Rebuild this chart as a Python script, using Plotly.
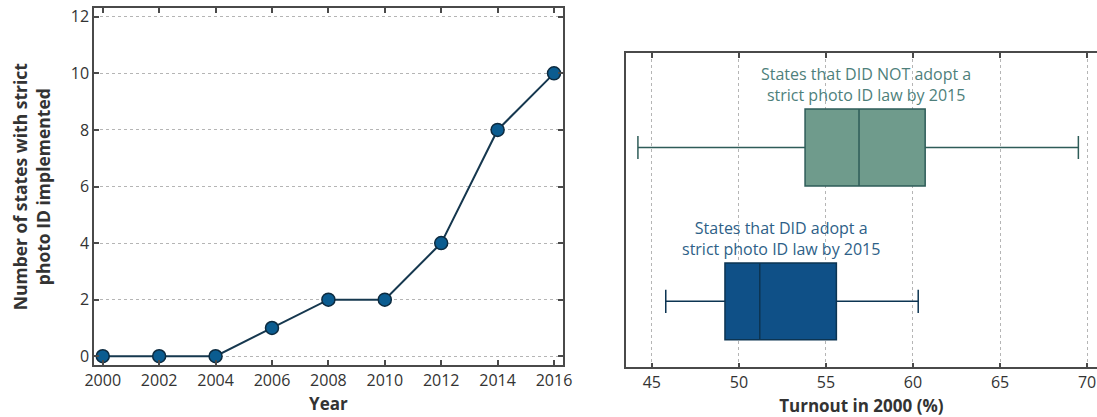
import plotly.graph_objects as go

# Strict photo ID laws implemented over time
years = [2000, 2002, 2004, 2006, 2008, 2010, 2012, 2014, 2016]
states_with_law = [0, 0, 0, 1, 2, 2, 4, 8, 10]

# Turnout in 2000 (%) summary statistics by group
groups = ["States that DID NOT adopt a<br>strict photo ID law by 2015",
          "States that DID adopt a<br>strict photo ID law by 2015"]
lower_whisker = [44.2, 45.8]
q1 = [53.8, 49.2]
median = [56.9, 51.2]
q3 = [60.7, 55.6]
upper_whisker = [69.5, 60.3]

box_pos = [0.70, 0.21]
box_fill = ["#6f9b8c", "#0f5087"]
box_line = ["#2e5c58", "#0c3452"]
label_color = ["#4e7f7b", "#2e5f88"]
label_x = [57.3, 52.4]
label_y = [0.976, 0.484]

FONT = "Open Sans"
AXIS_COLOR = "#4a4a4a"
TEXT_COLOR = "#333333"

fig = go.Figure()

fig.add_trace(go.Scatter(
    x=years, y=states_with_law, mode="lines+markers",
    line=dict(color="#16384f", width=2),
    marker=dict(size=13, color="#0b5c90", line=dict(color="#0d2b40", width=1.5)),
    xaxis="x", yaxis="y", showlegend=False,
))

for i in range(len(groups)):
    fig.add_trace(go.Box(
        y=[box_pos[i]], q1=[q1[i]], median=[median[i]], q3=[q3[i]],
        lowerfence=[lower_whisker[i]], upperfence=[upper_whisker[i]],
        orientation="h", width=0.245, whiskerwidth=0.3,
        fillcolor=box_fill[i], line=dict(color=box_line[i], width=1.5),
        boxpoints=False, xaxis="x2", yaxis="y2", showlegend=False,
        hoverinfo="x",
    ))
    fig.add_annotation(
        x=label_x[i], y=label_y[i], xref="x2", yref="y2",
        text=groups[i], showarrow=False, align="center",
        font=dict(family=FONT, size=16, color=label_color[i]),
        yanchor="top",
    )

axis_common = dict(
    showline=True, linecolor=AXIS_COLOR, linewidth=1.5, mirror="ticks",
    ticks="inside", ticklen=5, tickcolor=AXIS_COLOR, tickwidth=1.5,
    gridcolor="#b5b5b5", griddash="dot", gridwidth=1,
    zeroline=False, automargin=False,
    tickfont=dict(family=FONT, size=16, color=TEXT_COLOR),
)

fig.update_layout(
    width=1097, height=417,
    margin=dict(l=0, r=0, t=0, b=0),
    paper_bgcolor="white", plot_bgcolor="white",
    xaxis=dict(
        domain=[0.0857, 0.5130], range=[1999.69, 2016.31],
        tickvals=years, ticktext=[str(y) for y in years],
        showgrid=False,
        title=dict(text="<b>Year</b>", standoff=8,
                   font=dict(family=FONT, size=17, color=TEXT_COLOR)),
        **axis_common,
    ),
    yaxis=dict(
        domain=[0.1247, 0.9801], range=[-0.31, 12.3],
        tickvals=[0, 2, 4, 6, 8, 10, 12], showgrid=True,
        title=dict(text="<b>Number of states with strict<br>photo ID implemented</b>",
                   standoff=16,
                   font=dict(family=FONT, size=17.5, color=TEXT_COLOR)),
        **axis_common,
    ),
    xaxis2=dict(
        domain=[0.5704, 1.0], range=[43.5, 70.57], anchor="y2",
        tickvals=[45, 50, 55, 60, 65, 70], showgrid=True,
        title=dict(text="<b>Turnout in 2000 (%)</b>", standoff=8,
                   font=dict(family=FONT, size=17, color=TEXT_COLOR)),
        **axis_common,
    ),
    yaxis2=dict(
        domain=[0.1192, 0.8722], range=[0, 1], anchor="x2",
        showline=True, linecolor=AXIS_COLOR, linewidth=1.5, mirror=True,
        ticks="", showticklabels=False, showgrid=False, zeroline=False,
        automargin=False,
    ),
)

fig.write_html("out.html")
